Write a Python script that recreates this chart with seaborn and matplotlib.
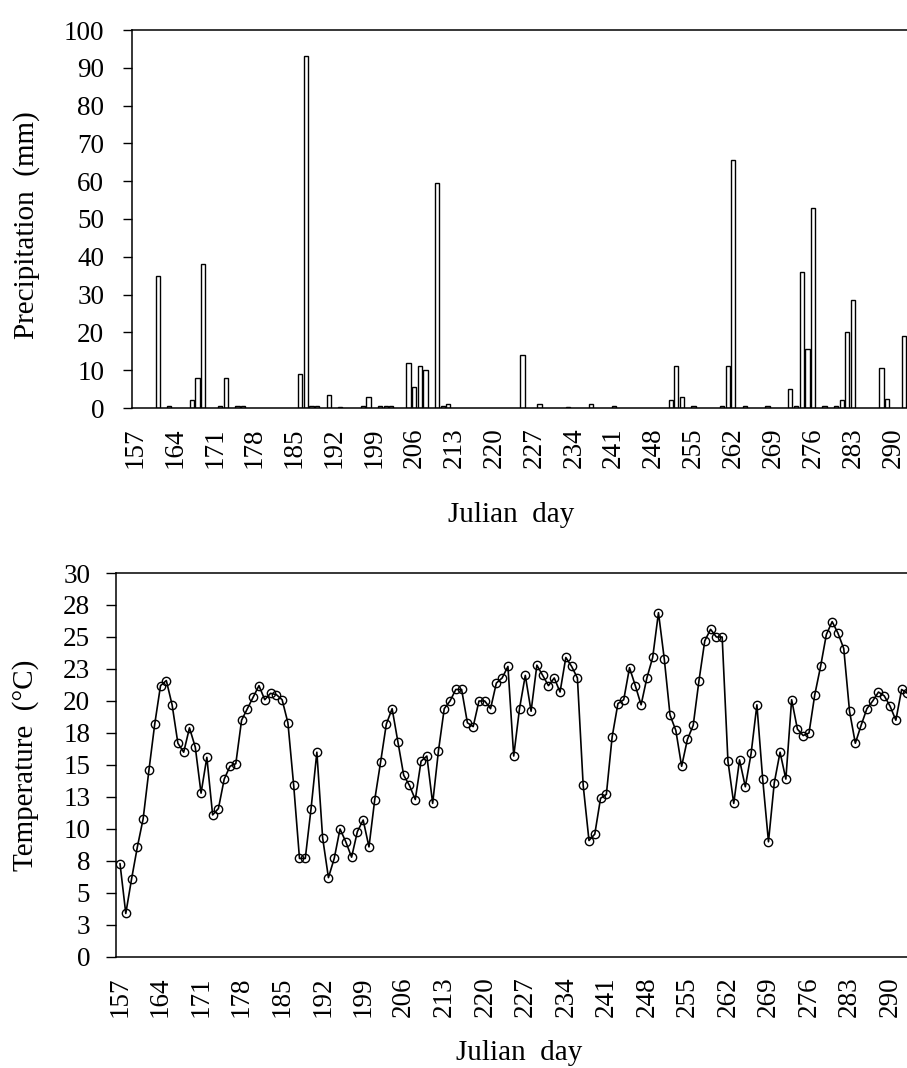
import matplotlib
matplotlib.use("Agg")
import matplotlib.pyplot as plt
import seaborn as sns
import pandas as pd

# ---------------- data ----------------
rain_days = [161, 163, 167, 168, 169, 172, 173, 175, 176, 186, 187, 188, 189, 191,
             193, 197, 198, 200, 201, 202, 205, 206, 207, 208, 210, 211, 212, 225,
             228, 233, 237, 241, 251, 252, 253, 255, 260, 261, 262, 264, 268, 272,
             273, 274, 275, 276, 278, 280, 281, 282, 283, 288, 289, 292]
rain_mm = [35, 0.5, 2, 8, 38, 0.5, 8, 0.5, 0.5, 9, 93, 0.5, 0.5, 3.5,
           0.3, 0.5, 3, 0.5, 0.5, 0.5, 12, 5.5, 11, 10, 59.5, 0.5, 1, 14,
           1, 0.3, 1, 0.4, 2, 11, 3, 0.5, 0.5, 11, 65.5, 0.4, 0.4, 5,
           0.5, 36, 15.5, 53, 0.4, 0.5, 2, 20, 28.5, 10.5, 2.5, 19]

temp_start_day = 157
temp_c = [7.3, 3.4, 6.1, 8.6, 10.8, 14.6, 18.2, 21.2, 21.6, 19.7,
          16.7, 16.0, 17.9, 16.4, 12.8, 15.6, 11.1, 11.6, 13.9, 14.9,
          15.1, 18.5, 19.4, 20.3, 21.2, 20.1, 20.6, 20.5, 20.1, 18.3,
          13.4, 7.7, 7.7, 11.6, 16.0, 9.3, 6.2, 7.7, 10.0, 9.0,
          7.8, 9.8, 10.7, 8.6, 12.3, 15.2, 18.2, 19.4, 16.8, 14.2,
          13.4, 12.3, 15.3, 15.7, 12.0, 16.1, 19.4, 20.0, 20.9, 20.9,
          18.3, 18.0, 20.0, 20.0, 19.4, 21.4, 21.8, 22.7, 15.7, 19.4,
          22.0, 19.2, 22.8, 22.0, 21.2, 21.8, 20.7, 23.4, 22.7, 21.8,
          13.4, 9.1, 9.6, 12.4, 12.7, 17.2, 19.8, 20.1, 22.6, 21.2,
          19.7, 21.8, 23.4, 26.9, 23.3, 18.9, 17.7, 14.9, 17.0, 18.1,
          21.6, 24.7, 25.6, 25.0, 25.0, 15.3, 12.0, 15.4, 13.3, 15.9,
          19.7, 13.9, 9.0, 13.6, 16.0, 13.9, 20.1, 17.8, 17.3, 17.5,
          20.5, 22.7, 25.2, 26.2, 25.3, 24.1, 19.2, 16.7, 18.1, 19.4,
          20.0, 20.7, 20.4, 19.6, 18.5, 20.9, 20.6]
temp_days = list(range(temp_start_day, temp_start_day + len(temp_c)))

xtick_days = list(range(157, 291, 7))
rain_yticks = list(range(0, 101, 10))
temp_yticks = [0, 2.5, 5, 7.5, 10, 12.5, 15, 17.5, 20, 22.5, 25, 27.5, 30]
temp_ylabels = ["0", "3", "5", "8", "10", "13", "15", "18", "20", "23", "25", "28", "30"]

rain_df = pd.DataFrame({"day": rain_days, "mm": rain_mm})
temp_df = pd.DataFrame({"day": temp_days, "t": temp_c})

# ---------------- style ----------------
sns.set_style("ticks")
plt.rcParams["font.family"] = ["Liberation Serif", "DejaVu Serif"]
plt.rcParams["axes.linewidth"] = 1.1
for k in ["text.color", "axes.labelcolor", "xtick.color", "ytick.color",
          "axes.edgecolor", "xtick.labelcolor", "ytick.labelcolor"]:
    plt.rcParams[k] = "black"

W, H = 907, 1068
fig = plt.figure(figsize=(W / 100, H / 100), dpi=100)

TICK_FS = 19.5
LAB_FS = 21

# ---------------- top: precipitation ----------------
x0a, x1a, pxa = 156.5, 296.0, 5.70
ax1 = fig.add_axes([132 / W, (H - 408) / H, (x1a - x0a) * pxa / W, 378 / H])
sns.barplot(data=rain_df, x="day", y="mm", native_scale=True, ax=ax1,
            color="white", saturation=1, edgecolor="black", linewidth=1.0,
            errorbar=None, width=0.72)
ax1.set_xlim(x0a, x1a)
ax1.set_ylim(0, 100)
ax1.set_xticks(xtick_days)
ax1.set_xticklabels([str(d) for d in xtick_days], rotation=90, fontsize=TICK_FS)
ax1.set_yticks(rain_yticks)
ax1.set_yticklabels([str(v) for v in rain_yticks], fontsize=TICK_FS)
ax1.tick_params(axis="x", length=0, pad=14)
ax1.tick_params(axis="y", direction="out", length=6.5, width=1.0, pad=13.5)
ax1.set_xlabel("")
ax1.set_ylabel("")
ax1.spines["right"].set_visible(False)

# ---------------- bottom: temperature ----------------
x0b, x1b, pxb = 156.31, 296.0, 5.79
ax2 = fig.add_axes([116 / W, (H - 957) / H, (x1b - x0b) * pxb / W, 384 / H])
sns.lineplot(data=temp_df, x="day", y="t", ax=ax2, color="black", linewidth=1.2,
             marker="o", markersize=6, markerfacecolor="none",
             markeredgecolor="black", markeredgewidth=1.0)
ax2.set_xlim(x0b, x1b)
ax2.set_ylim(0, 30)
ax2.set_xticks(xtick_days)
ax2.set_xticklabels([str(d) for d in xtick_days], rotation=90, fontsize=TICK_FS)
ax2.set_yticks(temp_yticks)
ax2.set_yticklabels(temp_ylabels, fontsize=TICK_FS)
ax2.tick_params(axis="x", length=0, pad=14)
ax2.tick_params(axis="y", direction="out", length=7, width=1.0, pad=11.5)
ax2.set_xlabel("")
ax2.set_ylabel("")
ax2.spines["right"].set_visible(False)

# ---------------- axis titles ----------------
fig.text(27 / W, 1 - 225 / H, "Precipitation  (mm)", rotation=90, ha="center",
         va="center", fontsize=LAB_FS)
fig.text(511 / W, 1 - 515 / H, "Julian  day", ha="center", va="center", fontsize=LAB_FS)
fig.text(26 / W, 1 - 765 / H, "Temperature  (\u00b0C)", rotation=90, ha="center",
         va="center", fontsize=LAB_FS)
fig.text(519 / W, 1 - 1053 / H, "Julian  day", ha="center", va="center", fontsize=LAB_FS)

fig.savefig("out.png", dpi=100)
